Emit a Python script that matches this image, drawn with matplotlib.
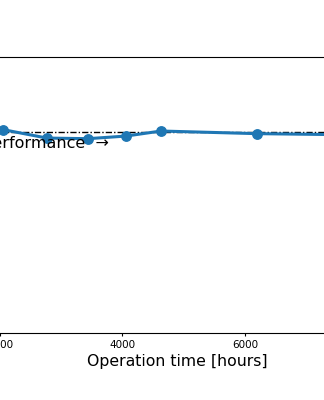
import matplotlib
matplotlib.use('Agg')
import matplotlib.pyplot as plt

# operating hours and normalised performance
hours = [1300, 2049, 2767, 3437, 4057, 4629, 6196, 7800]
perf = [1.01, 1.011, 0.969, 0.966, 0.979, 1.004, 0.991, 0.985]
baseline = 1.0

fig = plt.figure(figsize=(3.24, 4.0), dpi=100)
# axes wider than the figure: only the middle part shows
ax = fig.add_axes([-0.378, 0.1675, 1.890, 0.69])

ax.axhline(baseline, color='k', linestyle=(0, (4.5, 1.5, 1, 1.5)), linewidth=1, zorder=1)
ax.plot(hours, perf, '-o', color='#1f77b4', linewidth=2.2, markersize=6.8, zorder=2)
ax.text(3780, 0.94, 'Better performance  \u2192', ha='right', va='center', fontsize=11.5)

ax.set_xlim(0, 10000)
ax.set_ylim(0, 1.372)
ax.set_xticks([0, 2000, 4000, 6000, 8000, 10000])
ax.tick_params(axis='x', labelsize=7.5, length=2.5, pad=2.5)
ax.set_xlabel('Operation time [hours]', fontsize=11.3, labelpad=3)
ax.xaxis.label.set_x(0.489)

fig.savefig('out.png', dpi=100)
